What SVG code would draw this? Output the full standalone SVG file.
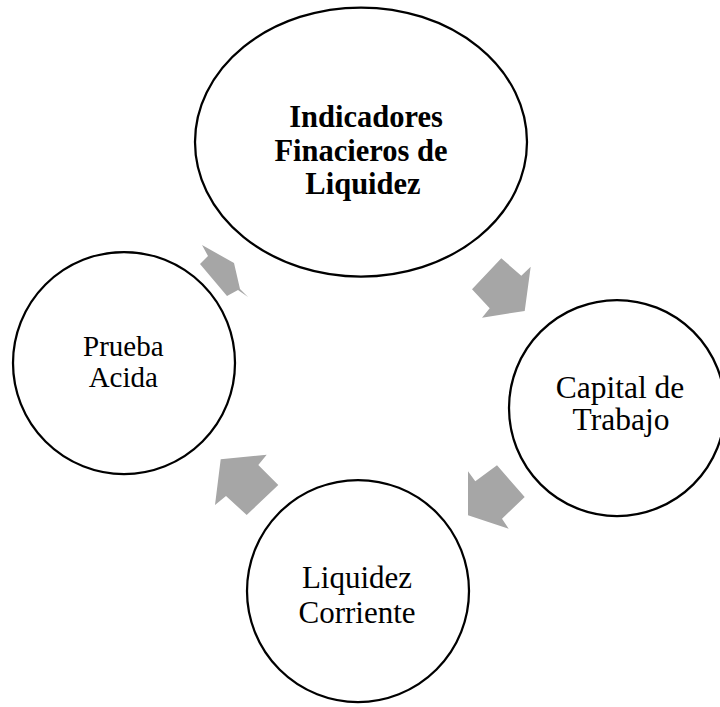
<svg xmlns="http://www.w3.org/2000/svg" width="720" height="707" viewBox="0 0 720 707">
<style>
.node{fill:#ffffff;stroke:#000000;stroke-width:2.25}
.arr{fill:#a6a6a6;stroke:none}
.t{font-family:"Liberation Serif","Times New Roman",serif;fill:#000000;text-anchor:middle}
.b{font-weight:bold}
</style>
<rect width="720" height="707" fill="#ffffff"/>
<g id="connectors">
<polygon class="arr" points="202,245 234,263 240,289 248,297 238,290 227,296 200,264 208,256"/>
<polygon class="arr" points="501.3,258.3 521.3,275.7 530.7,266.7 524.7,311 482,317.7 489.7,308.3 472,289.3"/>
<polygon class="arr" points="468,471.3 475.3,481.3 497,465.3 524.7,497 502,518.7 508.7,528.7 468,515.3"/>
<polygon class="arr" points="220.7,459.3 266.7,454.7 258.3,465 278.3,485 246.7,515 226,496 215,505"/>
</g>
<g id="node-indicadores">
<ellipse class="node" cx="361" cy="142" rx="166" ry="134.5"/>
<text class="t b" font-size="30.5" x="366" y="127">Indicadores</text>
<text class="t b" font-size="30.5" x="361" y="160.5">Finacieros de</text>
<text class="t b" font-size="30.5" x="363" y="194">Liquidez</text>
</g>
<g id="node-capital">
<circle class="node" cx="617" cy="408" r="108"/>
<text class="t" font-size="31.5" x="620" y="398">Capital de</text>
<text class="t" font-size="31.5" x="621" y="430">Trabajo</text>
</g>
<g id="node-liquidez">
<circle class="node" cx="358" cy="591" r="111"/>
<text class="t" font-size="31" x="357" y="588.3">Liquidez</text>
<text class="t" font-size="31" x="357" y="622.7">Corriente</text>
</g>
<g id="node-prueba">
<circle class="node" cx="124" cy="363" r="111"/>
<text class="t" font-size="29" x="123.3" y="356">Prueba</text>
<text class="t" font-size="29" x="123.3" y="386.7">Acida</text>
</g>
</svg>
